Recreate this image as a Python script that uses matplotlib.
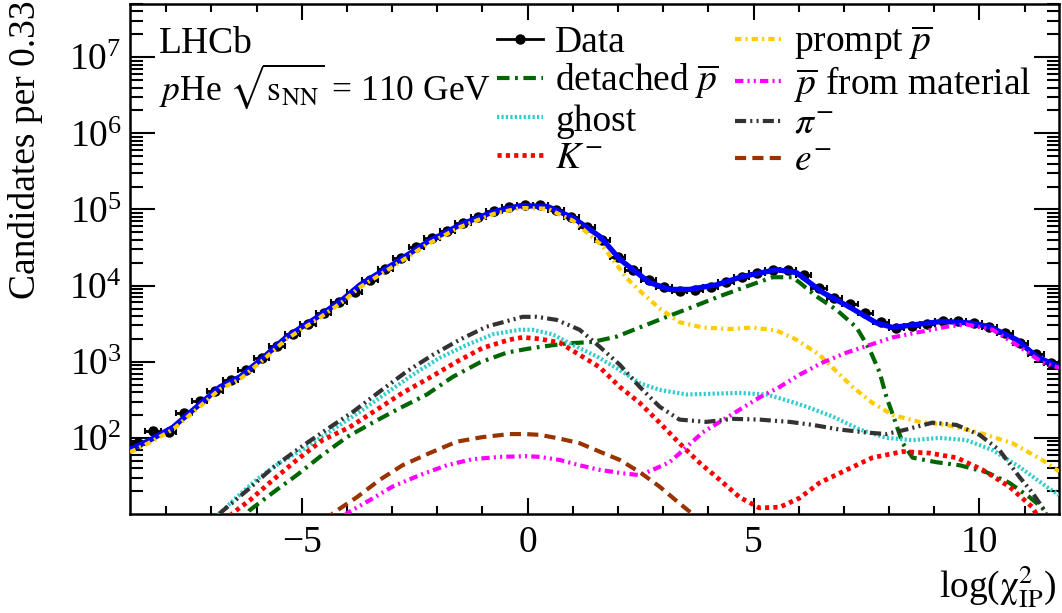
import numpy as np
import matplotlib
matplotlib.use('Agg')
import matplotlib.pyplot as plt
from matplotlib.lines import Line2D
from matplotlib.ticker import MultipleLocator, LogLocator, NullFormatter

plt.rcParams['font.family'] = ['Liberation Serif', 'DejaVu Serif']
plt.rcParams['mathtext.fontset'] = 'stix'
plt.rcParams['lines.scale_dashes'] = False

# binning of the data (60 bins)
x_lo, x_hi, n_bins = -8.8, 11.76, 60

# data, log10(candidates) per bin
data_log = [1.93, 2.09, 2.08, 2.33, 2.48, 2.62, 2.76, 2.89, 3.05, 3.21,
            3.37, 3.50, 3.64, 3.78, 3.92, 4.07, 4.22, 4.36, 4.51, 4.62,
            4.72, 4.82, 4.90, 4.98, 5.03, 5.06, 5.06, 4.99, 4.90, 4.77,
            4.60, 4.38, 4.20, 4.07, 3.98, 3.93, 3.94, 3.98, 4.05, 4.11,
            4.16, 4.21, 4.21, 4.14, 3.97, 3.84, 3.76, 3.64, 3.52, 3.44,
            3.47, 3.50, 3.54, 3.53, 3.51, 3.46, 3.38, 3.25, 3.10, 2.98]

# fit curves (x, log10 y)
total_x = [-8.8, -8.36, -7.85, -7.32, -6.81, -6.37, -5.86, -5.33, -4.67, -4.09, -3.71, -2.98, -2.23,
           -1.49, -0.76, -0.16, 0.44, 1.01, 1.61, 2.05, 2.70, 3.14, 3.58, 4.18, 4.76, 5.51, 5.95,
           6.53, 7.12, 7.72, 8.08, 8.61, 9.18, 9.78, 10.22, 10.82, 11.26, 11.76]
total_log = [1.85, 1.97, 2.14, 2.41, 2.67, 2.80, 3.05, 3.33, 3.58, 3.82, 4.01, 4.28, 4.57,
             4.80, 4.97, 5.05, 5.04, 4.89, 4.64, 4.34, 4.04, 3.95, 3.95, 4.01, 4.12, 4.21, 4.17,
             3.91, 3.72, 3.51, 3.45, 3.49, 3.53, 3.51, 3.46, 3.29, 3.07, 2.93]

prompt_x = [-8.8, -8.36, -7.85, -7.32, -6.81, -6.37, -5.86, -5.33, -4.67, -4.09, -3.71, -2.98, -2.23,
            -1.49, -0.76, -0.16, 0.44, 1.01, 1.66, 2.19, 2.54, 2.92, 3.36, 3.87, 4.47, 4.98, 5.51,
            5.95, 6.46, 6.84, 7.19, 7.63, 8.08, 8.67, 9.27, 9.99, 10.73, 11.39, 11.76]
prompt_log = [1.81, 1.94, 2.11, 2.38, 2.64, 2.77, 3.02, 3.30, 3.55, 3.79, 3.98, 4.25, 4.54,
              4.77, 4.94, 5.02, 5.01, 4.85, 4.52, 4.10, 3.90, 3.70, 3.52, 3.45, 3.43, 3.45, 3.41,
              3.29, 3.09, 2.87, 2.67, 2.46, 2.30, 2.21, 2.17, 2.07, 1.93, 1.71, 1.56]

detached_x = [-6.5, -6.15, -5.55, -5.11, -4.60, -4.00, -3.43, -2.83, -2.23, -1.66, -1.06, -0.46, 0.0,
              0.33, 0.86, 1.44, 1.97, 2.48, 3.08, 3.65, 4.25, 4.85, 5.42, 5.86, 6.02, 6.39, 6.84,
              7.28, 7.57, 7.79, 7.94, 8.12, 8.30, 8.52, 9.05, 9.56, 10.15, 10.66, 11.11, 11.39, 11.8]
detached_log = [0.75, 1.05, 1.32, 1.51, 1.75, 2.01, 2.20, 2.39, 2.57, 2.80, 2.99, 3.12, 3.17,
                3.20, 3.24, 3.26, 3.33, 3.45, 3.59, 3.72, 3.86, 3.99, 4.11, 4.11, 4.04, 3.86, 3.68,
                3.45, 3.16, 2.86, 2.54, 2.24, 1.93, 1.74, 1.68, 1.64, 1.55, 1.41, 1.22, 1.08, 0.75]

material_x = [-4.4, -4.0, -3.50, -2.99, -2.39, -1.79, -1.22, -0.62, -0.02, 0.27, 0.71, 1.15, 1.59,
              2.04, 2.48, 2.77, 3.14, 3.52, 3.87, 4.25, 4.69, 5.13, 5.58, 6.02, 6.53, 7.06, 7.57,
              8.08, 8.67, 9.27, 9.71, 10.29, 10.88, 11.39, 11.76]
material_log = [0.72, 1.01, 1.18, 1.36, 1.51, 1.64, 1.72, 1.75, 1.76, 1.75, 1.71, 1.64, 1.58,
                1.54, 1.51, 1.58, 1.68, 1.88, 2.07, 2.21, 2.37, 2.53, 2.67, 2.83, 2.99, 3.12, 3.22,
                3.32, 3.39, 3.46, 3.49, 3.42, 3.20, 2.99, 2.92]

ghost_x = [-7.2, -6.81, -6.44, -6.00, -5.49, -4.89, -4.31, -3.72, -3.12, -2.54, -1.95, -1.35, -0.77,
           -0.18, 0.11, 0.55, 1.0, 1.53, 2.04, 2.48, 2.92, 3.52, 4.09, 4.69, 5.29, 5.86, 6.17, 6.75,
           7.35, 7.94, 8.52, 9.12, 9.71, 10.29, 10.88, 11.48, 11.76]
ghost_log = [0.72, 1.01, 1.22, 1.45, 1.67, 1.88, 2.11, 2.34, 2.59, 2.83, 3.05, 3.22, 3.36,
             3.42, 3.42, 3.36, 3.22, 3.07, 2.89, 2.72, 2.63, 2.57, 2.58, 2.59, 2.57, 2.47, 2.41, 2.28,
             2.11, 2.00, 1.97, 2.00, 1.97, 1.84, 1.62, 1.36, 1.25]

pion_x = [-7.2, -6.81, -6.15, -5.64, -5.04, -4.45, -3.87, -3.27, -2.68, -2.10, -1.50, -0.91, -0.11,
          0.20, 0.64, 1.15, 1.59, 2.04, 2.48, 2.92, 3.36, 3.96, 4.54, 5.13, 5.80, 6.31, 6.90, 7.50,
          7.94, 8.38, 8.96, 9.49, 10.0, 10.44, 10.88, 11.17, 11.39, 11.7]
pion_log = [0.72, 1.01, 1.34, 1.61, 1.87, 2.11, 2.34, 2.61, 2.87, 3.09, 3.29, 3.46, 3.59,
            3.59, 3.55, 3.42, 3.20, 2.96, 2.67, 2.41, 2.24, 2.21, 2.25, 2.24, 2.21, 2.17, 2.11, 2.07,
            2.05, 2.11, 2.20, 2.17, 2.04, 1.84, 1.49, 1.28, 1.09, 0.75]

kaon_x = [-6.9, -6.53, -6.15, -5.71, -5.11, -4.54, -3.94, -3.34, -2.77, -2.17, -1.57, -1.0, -0.40,
          -0.11, 0.27, 0.71, 1.15, 1.59, 2.04, 2.48, 2.92, 3.36, 3.81, 4.25, 4.69, 5.13, 5.58, 6.02,
          6.46, 7.06, 7.63, 8.30, 8.89, 9.49, 10.07, 10.66, 11.17, 11.5]
kaon_log = [0.70, 1.01, 1.18, 1.41, 1.71, 1.97, 2.14, 2.37, 2.59, 2.79, 3.00, 3.18, 3.29,
            3.32, 3.30, 3.25, 3.09, 2.93, 2.67, 2.46, 2.20, 1.93, 1.67, 1.45, 1.22, 1.08, 1.09, 1.21,
            1.41, 1.58, 1.74, 1.82, 1.80, 1.74, 1.58, 1.36, 1.09, 0.75]

electron_x = [-4.7, -4.31, -3.78, -3.27, -2.77, -2.17, -1.57, -1.0, -0.40, -0.07, 0.27, 0.71, 1.15,
              1.59, 2.04, 2.48, 2.92, 3.36, 3.63, 3.9]
electron_log = [0.72, 1.01, 1.22, 1.45, 1.64, 1.80, 1.95, 2.01, 2.05, 2.05, 2.04, 1.99, 1.93,
                1.82, 1.71, 1.55, 1.36, 1.14, 1.01, 0.75]

FS = 27

edges = np.linspace(x_lo, x_hi, n_bins + 1)
centres = 0.5 * (edges[1:] + edges[:-1])
half_w = 0.5 * (edges[1] - edges[0])
counts = 10 ** np.array(data_log)

fig = plt.figure(figsize=(10.62, 6.13), dpi=100)
ax = fig.add_axes([130 / 1062, 99 / 613, 929 / 1062, 510 / 613])

ax.errorbar(centres, counts, xerr=half_w, yerr=np.sqrt(counts), fmt='o', color='black',
            ms=6.5, lw=2, capsize=2.5, capthick=1.5, zorder=3)
ax.plot(total_x, 10 ** np.array(total_log), color='#0000ff', lw=3.8, zorder=4)

# components: (x, log y, colour, dashes, width, label)
comps = {
    'detached': (detached_x, detached_log, '#006600', (9, 4, 2, 4), 3.0, r'detached $\overline{p}$'),
    'ghost': (ghost_x, ghost_log, '#33cccc', (1.6, 1.6), 3.0, 'ghost'),
    'kaon': (kaon_x, kaon_log, '#ff0000', (3, 3), 3.4, r'$K^{-}$'),
    'prompt': (prompt_x, prompt_log, '#ffcc00', (4.5, 3, 1.5, 3), 3.0, r'prompt $\overline{p}$'),
    'material': (material_x, material_log, '#ff00ff', (6, 3, 1.5, 3, 1.5, 3), 3.0,
                 r'$\overline{p}$ from material'),
    'pion': (pion_x, pion_log, '#333333', (8, 3, 1.5, 3, 1.5, 3), 3.0, r'$\pi^{-}$'),
    'electron': (electron_x, electron_log, '#993300', (8, 4.5), 3.0, r'$e^{-}$'),
}
handles = {}
for key, (xs, ls, col, dash, w, lab) in comps.items():
    line, = ax.plot(xs, 10 ** np.array(ls), color=col, lw=w, dashes=dash, zorder=5, label=lab)
    handles[key] = line

data_handle = Line2D([], [], color='black', marker='o', ms=6.5, lw=2, label='Data')
order = [data_handle, handles['detached'], handles['ghost'], handles['kaon'],
         handles['prompt'], handles['material'], handles['pion'], handles['electron']]
ax.legend(handles=order, ncol=2, loc='upper left', bbox_to_anchor=(0.395, 0.962),
          frameon=False, fontsize=FS, borderpad=0, handlelength=1.23, handletextpad=0.32,
          labelspacing=0.07, columnspacing=0.45, borderaxespad=0)

ax.text(0.031, 0.904, 'LHCb', transform=ax.transAxes, fontsize=FS, va='baseline', ha='left')
ax.text(0.031, 0.812, r'$p$He $\sqrt{\mathrm{s}_{\mathrm{NN}}}$ = 110 GeV', transform=ax.transAxes,
        fontsize=25.5, va='baseline', ha='left')

ax.set_yscale('log')
ax.set_xlim(x_lo, x_hi)
ax.set_ylim(10, 5e7)
ax.set_yticks([1e2, 1e3, 1e4, 1e5, 1e6, 1e7])
ax.yaxis.set_minor_locator(LogLocator(base=10, subs=np.arange(2, 10), numticks=20))
ax.yaxis.set_minor_formatter(NullFormatter())
ax.xaxis.set_major_locator(MultipleLocator(5))
ax.xaxis.set_minor_locator(MultipleLocator(1))
ax.tick_params(which='both', direction='in', top=True, right=True, labelsize=FS, width=1.5)
ax.tick_params(axis='x', which='major', length=11.5, pad=8)
ax.tick_params(axis='x', which='minor', length=6)
ax.tick_params(axis='y', which='major', length=18, pad=6)
ax.tick_params(axis='y', which='minor', length=9)
for s in ax.spines.values():
    s.set_linewidth(1.8)

fig.text(1057 / 1062, 15 / 613, r'log($\mathrm{\chi}^{2}_{\mathrm{IP}}$)', fontsize=FS,
         ha='right', va='baseline')
fig.text(26 / 1062, 0.999, 'Candidates per 0.33', fontsize=FS, rotation=90, ha='center', va='top')

fig.savefig('out.png', dpi=100)
